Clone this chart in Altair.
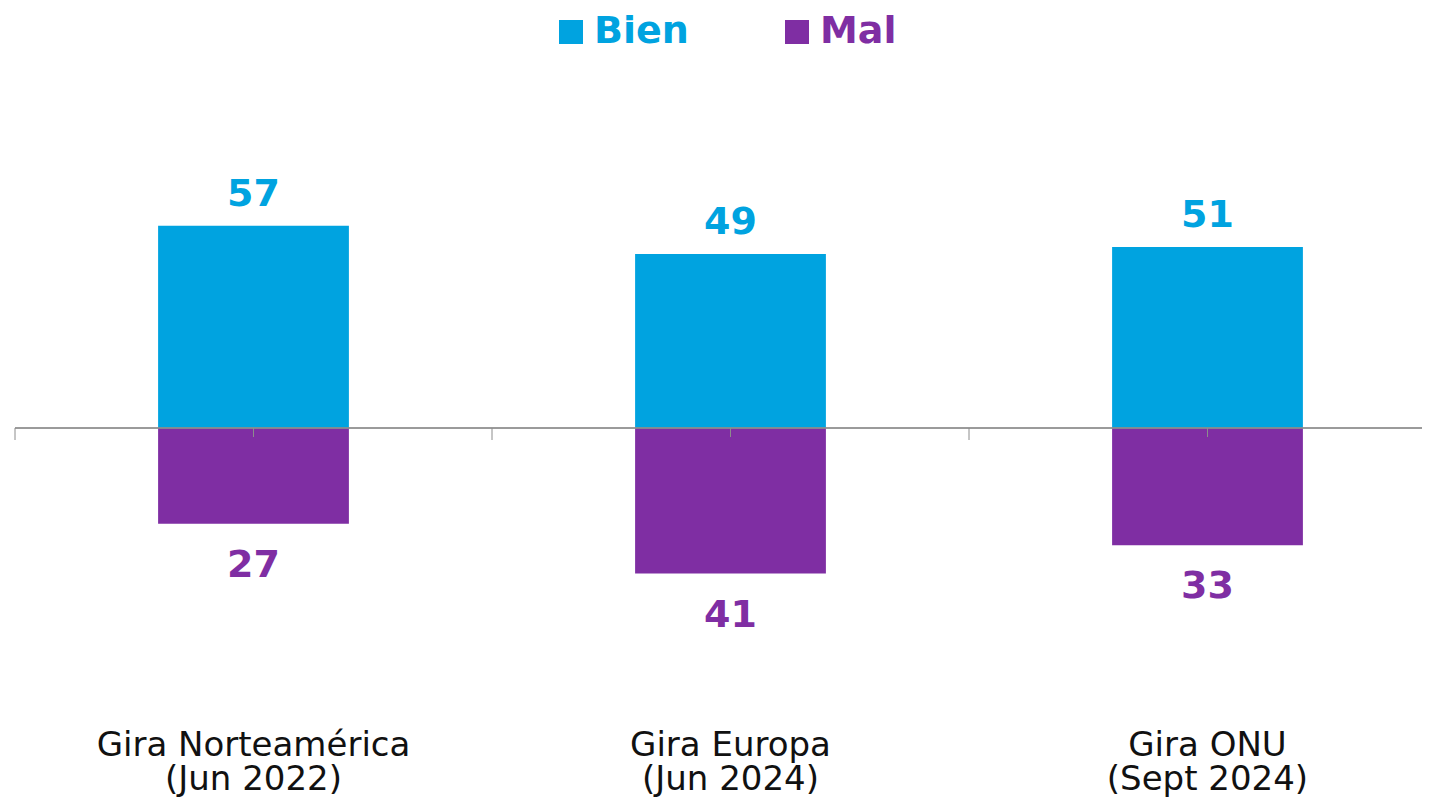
import altair as alt
import pandas as pd

categories = ["Gira Norteamérica|(Jun 2022)", "Gira Europa|(Jun 2024)", "Gira ONU|(Sept 2024)"]
bien = [57, 49, 51]
mal = [27, 41, 33]
series = ["Bien", "Mal"]
colors = ["#00A3E0", "#7F2EA3"]

rows = []
for c, b, m in zip(categories, bien, mal):
    rows.append({"cat": c, "serie": "Bien", "val": b, "label": str(b)})
    rows.append({"cat": c, "serie": "Mal", "val": -m, "label": str(m)})
df = pd.DataFrame(rows)
cats_df = pd.DataFrame({"cat": categories})

FONT = "DejaVu Sans"

xenc = alt.X("cat:N", sort=categories, scale=alt.Scale(paddingInner=0, paddingOuter=0),
             axis=alt.Axis(title=None, domain=False, ticks=False, labelAngle=0,
                           labelExpr="split(datum.label, '|')", labelFont=FONT,
                           labelFontSize=34, labelColor="#111111", labelLineHeight=34,
                           labelPadding=16, labelBaseline="top", labelLimit=0))
yscale = alt.Scale(domain=[-80, 80])
color = alt.Color("serie:N", sort=series, scale=alt.Scale(domain=series, range=colors),
                  legend=alt.Legend(title=None, orient="none", direction="horizontal",
                                    legendX=537, legendY=-131, padding=0, symbolType="square",
                                    symbolSize=576, symbolStrokeWidth=0, labelFont=FONT,
                                    labelFontSize=38, labelFontWeight="bold", labelOffset=4,
                                    columnPadding=89,
                                    labelColor=alt.ExprRef("datum.value === 'Bien' ? '#00A3E0' : '#7F2EA3'")))

bars = alt.Chart(df).mark_bar(width=alt.RelativeBandSize(0.4)).encode(
    x=xenc,
    y=alt.Y("val:Q", scale=yscale, axis=None),
    color=color,
)

text_pos = alt.Chart(df).transform_filter("datum.serie == 'Bien'").mark_text(
    font=FONT, fontSize=38, fontWeight="bold", baseline="alphabetic", dy=-20
).encode(x=alt.X("cat:N", sort=categories), y=alt.Y("val:Q", scale=yscale),
         text="label:N", color=alt.Color("serie:N", scale=alt.Scale(domain=series, range=colors), legend=None))

text_neg = alt.Chart(df).transform_filter("datum.serie == 'Mal'").mark_text(
    font=FONT, fontSize=38, fontWeight="bold", baseline="alphabetic", dy=53
).encode(x=alt.X("cat:N", sort=categories), y=alt.Y("val:Q", scale=yscale),
         text="label:N", color=alt.Color("serie:N", scale=alt.Scale(domain=series, range=colors), legend=None))

zero = alt.Chart(cats_df).mark_rule(color="#8c8c8c", strokeWidth=1).encode(y=alt.datum(0))

center_ticks = alt.Chart(cats_df).mark_rule(color="#8c8c8c", strokeWidth=1, y2Offset=9).encode(
    x=alt.X("cat:N", sort=categories), y=alt.datum(0), y2=alt.datum(0))

edge_ticks = alt.Chart(cats_df).mark_rule(color="#8c8c8c", strokeWidth=1, y2Offset=12).encode(
    x=alt.X("cat:N", sort=categories, bandPosition=0), y=alt.datum(0), y2=alt.datum(0))

chart = alt.layer(bars, zero, center_ticks, edge_ticks, text_pos, text_neg).properties(
    width=1431, height=568,
    autosize=alt.AutoSizeParams(type="none"),
    padding={"left": 7, "top": 136, "right": -24, "bottom": 86},
).configure_view(stroke=None).configure_axis(grid=False)

chart.save("out.html", embed_options={"renderer": "svg", "actions": False})
